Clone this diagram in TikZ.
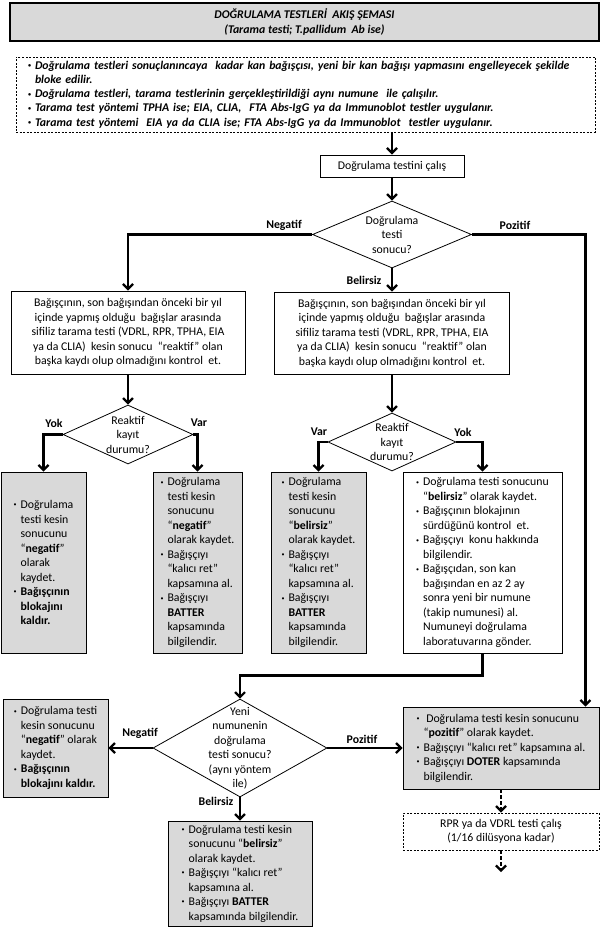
\documentclass[tikz,border=0pt]{standalone}
\usepackage{fontspec}
\setmainfont{Carlito}
\usetikzlibrary{shapes.geometric,arrows.meta}

\definecolor{shade}{HTML}{D9D9D9}
\newcommand{\bl}{\makebox[7pt][l]{\raisebox{1.6pt}{\fontsize{6}{6}\selectfont\textbullet}}}
\newcommand{\ind}{\hspace*{7pt}}

\begin{document}
\begin{tikzpicture}[x=1pt,y=-1pt,
                    font=\fontsize{11.8}{14.5}\selectfont,
                    flow/.style={line width=2.2pt,-{Straight Barb[length=5pt,width=10pt]}},
                    box/.style={rectangle,draw,line width=0.9pt,inner sep=0pt},
                    grey box/.style={box,fill=shade,align=left},
                    decision/.style={diamond,draw,line width=0.8pt,inner sep=0pt},
                    ask/.style={align=center,inner sep=0pt},
                    answer/.style={font=\fontsize{11.8}{14.5}\selectfont\bfseries,inner sep=1pt}]

  \useasboundingbox (0,0) rectangle (601,928);

  % title and notes
  \node[box,fill=shade,line width=1.3pt,minimum width=589,minimum height=38,align=center,
        font=\fontsize{11.8}{15}\selectfont\bfseries\itshape] (title) at (304.5,22)
    {DOĞRULAMA TESTLERİ \ AKIŞ ŞEMASI\\(Tarama testi; T.pallidum \ Ab ise)};
  \node[box,dash pattern=on 2pt off 1.5pt,minimum height=75,text width=555,inner xsep=12pt,
        align=left,font=\fontsize{11.8}{14.3}\selectfont\bfseries\itshape] (notes) at (305.5,94.5)
    {\bl Doğrulama testleri sonuçlanıncaya \ kadar kan bağışçısı, yeni bir kan bağışı yapmasını engelleyecek şekilde\\
     \ind bloke edilir.\\
     \bl Doğrulama testleri, tarama testlerinin gerçekleştirildiği aynı numune \ ile çalışılır.\\
     \bl Tarama test yöntemi TPHA ise; EIA, CLIA, \ FTA Abs-IgG ya da Immunoblot testler uygulanır.\\
     \bl Tarama test yöntemi \ EIA ya da CLIA ise; FTA Abs-IgG ya da Immunoblot \ testler uygulanır.};

  % first test
  \node[box,minimum width=144,minimum height=22] (run) at (392,166) {Doğrulama testini çalış};
  \node[decision,minimum width=159,minimum height=67] (q1) at (392,234.5) {};
  \node[ask] (q1 text) at (q1) {Doğrulama\\testi\\sonucu?};

  \node[box,minimum width=234,minimum height=83,align=center] (b1) at (128,332.5)
    {Bağışçının, son bağışından önceki bir yıl\\
     içinde yapmış olduğu \ bağışlar arasında\\
     sifiliz tarama testi (VDRL, RPR, TPHA, EIA\\
     ya da CLIA) \ kesin sonucu \ “reaktif” olan\\
     başka kaydı olup olmadığını kontrol \ et.};
  \node[box,minimum width=235,minimum height=82,align=center] (b2) at (392,333)
    {Bağışçının, son bağışından önceki bir yıl\\
     içinde yapmış olduğu \ bağışlar arasında\\
     sifiliz tarama testi (VDRL, RPR, TPHA, EIA\\
     ya da CLIA) \ kesin sonucu \ “reaktif” olan\\
     başka kaydı olup olmadığını kontrol \ et.};

  % records
  \node[decision,minimum width=130,minimum height=59] (q2) at (128,434.5) {};
  \node[ask] (q2 text) at (q2) {Reaktif\\kayıt\\durumu?};
  \node[decision,minimum width=128,minimum height=58] (q3) at (392,442) {};
  \node[ask] (q3 text) at (q3) {Reaktif\\kayıt\\durumu?};

  \node[grey box,minimum width=85,minimum height=181] (ga) at (43.5,562.5)
    {\bl Doğrulama\\ \ind testi kesin\\ \ind sonucunu\\ \ind “\textbf{negatif}”\\
     \ind olarak\\ \ind kaydet.\\ \bl\textbf{Bağışçının}\\ \ind\textbf{blokajını}\\ \ind\textbf{kaldır.}};
  \node[grey box,minimum width=89,minimum height=181] (gb) at (197.5,562.5)
    {\bl Doğrulama\\ \ind testi kesin\\ \ind sonucunu\\ \ind “\textbf{negatif}”\\
     \ind olarak kaydet.\\ \bl Bağışçıyı\\ \ind “kalıcı ret”\\ \ind kapsamına al.\\
     \bl Bağışçıyı\\ \ind\textbf{BATTER}\\ \ind kapsamında\\ \ind bilgilendir.};
  \node[grey box,minimum width=95,minimum height=181] (gc) at (318.5,562.5)
    {\bl Doğrulama\\ \ind testi kesin\\ \ind sonucunu\\ \ind “\textbf{belirsiz}”\\
     \ind olarak kaydet.\\ \bl Bağışçıyı\\ \ind “kalıcı ret”\\ \ind kapsamına al.\\
     \bl Bağışçıyı\\ \ind\textbf{BATTER}\\ \ind kapsamında\\ \ind bilgilendir.};
  \node[box,align=left,minimum width=159,minimum height=181] (gd) at (482.5,562.5)
    {\bl Doğrulama testi sonucunu\\ \ind “\textbf{belirsiz}” olarak kaydet.\\
     \bl Bağışçının blokajının\\ \ind sürdüğünü kontrol \ et.\\
     \bl Bağışçıyı \ konu hakkında\\ \ind bilgilendir.\\
     \bl Bağışçıdan, son kan\\ \ind bağışından en az 2 ay\\ \ind sonra yeni bir numune\\
     \ind (takip numunesi) al.\\ \ind Numuneyi doğrulama\\ \ind laboratuvarına gönder.};

  % follow-up sample
  \node[decision,minimum width=174,minimum height=98] (q4) at (240,748) {};
  \node[ask] (q4 text) at (q4) {Yeni\\numunenin\\doğrulama\\testi sonucu?\\(aynı yöntem\\ile)};

  \node[grey box,minimum width=105,minimum height=98] (ge) at (55.5,748)
    {\bl Doğrulama testi\\ \ind kesin sonucunu\\ \ind “\textbf{negatif}” olarak\\ \ind kaydet.\\
     \bl\textbf{Bağışçının}\\ \ind\textbf{blokajını kaldır.}};
  \node[grey box,minimum width=144,minimum height=105] (gf) at (240,873.5)
    {\bl Doğrulama testi kesin\\ \ind sonucunu “\textbf{belirsiz}”\\ \ind olarak kaydet.\\
     \bl Bağışçıyı “kalıcı ret”\\ \ind kapsamına al.\\
     \bl Bağışçıyı \textbf{BATTER}\\ \ind kapsamında bilgilendir.};
  \node[grey box,minimum width=196,minimum height=82] (g) at (501,748)
    {\bl\ Doğrulama testi kesin sonucunu\\ \ind “\textbf{pozitif}” olarak kaydet.\\
     \bl Bağışçıyı “kalıcı ret” kapsamına al.\\
     \bl Bağışçıyı \textbf{DOTER} kapsamında\\ \ind bilgilendir.};
  \node[box,dash pattern=on 2pt off 1.5pt,minimum width=196,minimum height=37,align=center] (rpr) at (501,831.5)
    {RPR ya da VDRL testi çalış\\(1/16 dilüsyona kadar)};
  \coordinate (stop) at (501,872);

  % answers
  \node[answer] (neg1) at (284,225) {Negatif};
  \node[answer] (poz1) at (515,225) {Pozitif};
  \node[answer] (bel1) at (364,280) {Belirsiz};
  \node[answer] (yok2) at (54,423) {Yok};
  \node[answer] (var2) at (199,423) {Var};
  \node[answer] (var3) at (319,432) {Var};
  \node[answer] (yok3) at (463,432) {Yok};
  \node[answer] (neg4) at (140,733) {Negatif};
  \node[answer] (poz4) at (362,739) {Pozitif};
  \node[answer] (bel4) at (216,801) {Belirsiz};

  \draw[flow] (notes.south -| run.north) -- (run.north);
  \draw[flow] (run.south) -- (q1.north);
  \draw[flow] (q1.west) -| (b1.north);
  \draw[flow] (q1.east) -| ([xshift=-14pt]g.north east);
  \draw[flow] (q1.south) -- (b2.north);
  \draw[flow] (b1.south) -- (q2.north);
  \draw[flow] (q2.west) -| (ga.north);
  \draw[flow] (q2.east) -| (gb.north);
  \draw[flow] (b2.south) -- (q3.north);
  \draw[flow] (q3.west) -| (gc.north);
  \draw[flow] (q3.east) -| (gd.north);
  \draw[flow] (gd.south) -- ++(0,22) -| (q4.north);
  \draw[flow] (q4.west) -- (ge.east);
  \draw[flow] (q4.east) -- (g.west);
  \draw[flow] (q4.south) -- (gf.north);
  \draw[flow,dash pattern=on 4pt off 2pt] (g.south) -- (rpr.north);
  \draw[flow,dash pattern=on 4pt off 2pt] (rpr.south) -- (stop);
\end{tikzpicture}
\end{document}
